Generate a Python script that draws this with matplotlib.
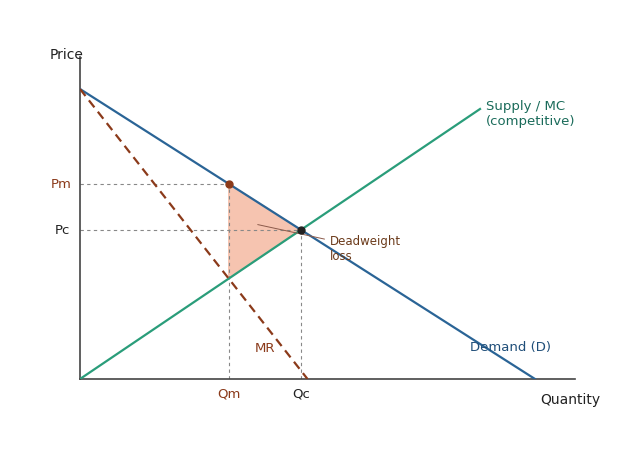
import matplotlib
matplotlib.use("Agg")
import matplotlib.pyplot as plt
import numpy as np

# model parameters (in chart units)
demand_intercept = [290.0]
demand_qmax = [455.0]
supply_end = [400.0, 270.0]
labels = ["Price", "Quantity", "Pm", "Pc", "Qm", "Qc", "MR", "Demand (D)", "Supply / MC\n(competitive)", "Deadweight\nloss"]

a = demand_intercept[0]; b = a / demand_qmax[0]
s = supply_end[1] / supply_end[0]
Qc = a / (b + s); Pc = s * Qc
Qm = a / (2 * b + s); Pm = a - b * Qm; MCm = s * Qm

fig = plt.figure(figsize=(6.2, 4.6), dpi=100)
ax = fig.add_axes([80/620, 80/460, 495/620, 322/460])
ax.set_xlim(0, 495); ax.set_ylim(0, 322)
for sp in ["top", "right"]:
    ax.spines[sp].set_visible(False)
for sp in ["left", "bottom"]:
    ax.spines[sp].set_color("#444444"); ax.spines[sp].set_linewidth(1.2)
ax.set_xticks([]); ax.set_yticks([])

brown = "#8b3a1a"; blue = "#2a6496"; green = "#2a9d7a"
ax.fill([Qm, Qc, Qm], [Pm, Pc, MCm], color="#f6c4b0", zorder=1)
ax.plot([0, demand_qmax[0]], [a, 0], color=blue, lw=1.6, zorder=3)
ax.plot([0, supply_end[0]], [0, supply_end[1]], color=green, lw=1.6, zorder=3)
ax.plot([0, a / (2 * b)], [a, 0], color=brown, lw=1.6, ls=(0, (4, 2.5)), zorder=3)
ax.plot([0, Qm], [Pm, Pm], color="#888888", lw=0.8, ls=(0, (3, 3)))
ax.plot([Qm, Qm], [0, Pm], color="#888888", lw=0.8, ls=(0, (3, 3)))
ax.plot([0, Qc], [Pc, Pc], color="#888888", lw=0.8, ls=(0, (3, 3)))
ax.plot([Qc, Qc], [0, Pc], color="#888888", lw=0.8, ls=(0, (3, 3)))
ax.plot([Qm], [Pm], "o", color=brown, ms=5, zorder=4)
ax.plot([Qc], [Pc], "o", color="#222222", ms=5, zorder=4)

kw = dict(fontsize=9.5, clip_on=False)
ax.text(-8, Pm, labels[2], ha="right", va="center", color=brown, **kw)
ax.text(-10, Pc, labels[3], ha="right", va="center", color="#222222", **kw)
ax.text(Qm, -8, labels[4], ha="center", va="top", color=brown, **kw)
ax.text(Qc, -8, labels[5], ha="center", va="top", color="#222222", **kw)
ax.text(-30, 325, labels[0], ha="left", va="center", color="#222222", fontsize=10, clip_on=False)
ax.text(520, -20, labels[1], ha="right", va="center", color="#222222", fontsize=10, clip_on=False)
ax.text(175, 32, labels[6], ha="left", va="center", color=brown, **kw)
ax.text(390, 32, labels[7], ha="left", va="center", color="#1f4e79", **kw)
ax.text(406, 266, labels[8], ha="left", va="center", color="#1a6b5a", **kw)
ax.annotate(labels[9], xy=(175, 155), xytext=(250, 131), fontsize=8.5, color="#6b3a1a",
            ha="left", va="center", arrowprops=dict(arrowstyle="-", color="#8b5a4a", lw=0.7))
fig.savefig("out.png", dpi=100)
